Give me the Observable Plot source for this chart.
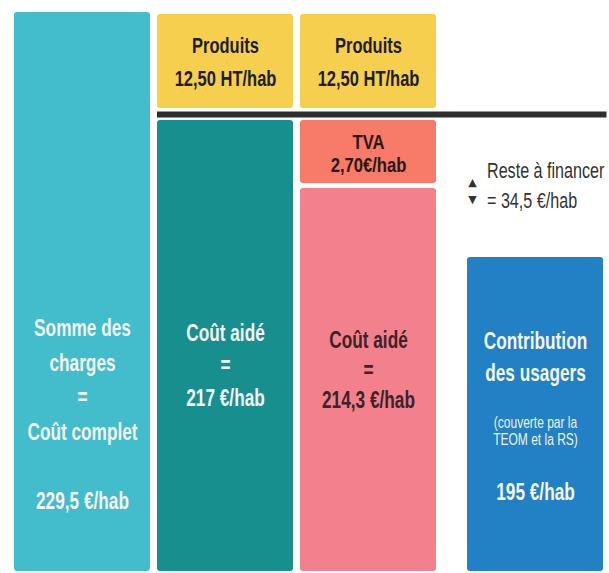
<!DOCTYPE html>
<html>
<head>
<meta charset="utf-8">
<script src="https://cdn.jsdelivr.net/npm/d3@7"></script>
<script src="https://cdn.jsdelivr.net/npm/@observablehq/plot@0.6"></script>
<style>
  html, body { margin: 0; padding: 0; background: #ffffff; }
  #chart svg { display: block; }
</style>
</head>
<body>
<div id="chart"></div>
<script>
// ---- data ----
const columns = ["complet", "aideHT", "aideTTC", "usagers"];
const segKey    = ["complet", "aideHT", "produitsHT", "aideTTC", "tva", "produitsTTC", "usagers", "reste"];
const segColumn = ["complet", "aideHT", "aideHT", "aideTTC", "aideTTC", "aideTTC", "usagers", "usagers"];
const segValue  = [229.5, 217, 12.5, 214.3, 2.7, 12.5, 195, 34.5];
const segTitle  = ["Somme des\ncharges\n=\nCoût complet", "Coût aidé\n=", "Produits", "Coût aidé\n=", "TVA", "Produits", "Contribution\ndes usagers", "Reste à financer"];
const usagersNote = "(couverte par la\nTEOM et la RS)";

const fr = (v, d) => (d == null ? String(v) : v.toFixed(d)).replace(".", ",");
const segLabel = [
  `${segTitle[0]}\n\n${fr(segValue[0])} €/hab`,
  `${segTitle[1]}\n${fr(segValue[1])} €/hab`,
  `${segTitle[2]}\n${fr(segValue[2], 2)} HT/hab`,
  `${segTitle[3]}\n${fr(segValue[3])} €/hab`,
  `${segTitle[4]}\n${fr(segValue[4], 2)}€/hab`,
  `${segTitle[5]}\n${fr(segValue[5], 2)} HT/hab`,
  `${segTitle[6]}`,
  `${segTitle[7]}\n= ${fr(segValue[7])} €/hab`
];
const usagersValueLabel = `${fr(segValue[6])} €/hab`;

// stack segments bottom-up within each column
const cum = {};
const segs = segKey.map((key, i) => {
  const col = segColumn[i];
  const c = columns.indexOf(col);
  const y1 = cum[col] || 0;
  const y2 = y1 + segValue[i];
  cum[col] = y2;
  return {key, col, x1: c, x2: c + 1, xm: c + 0.5, y1, y2, label: segLabel[i]};
});
const seg = k => segs.filter(d => d.key === k);

// ---- styles ----
const colors = {
  complet: "#43bdcb", aideHT: "#178f8f", produitsHT: "#f6cf4e", aideTTC: "#f2808d",
  tva: "#f77b68", produitsTTC: "#f6cf4e", usagers: "#2280c4"
};
const rectStyle = {
  complet:     {},
  aideHT:      {insetTop: 6},
  produitsHT:  {insetTop: 2, insetBottom: 6},
  aideTTC:     {insetTop: 2.5},
  tva:         {insetTop: 6, insetBottom: 2.5},
  produitsTTC: {insetTop: 2, insetBottom: 6},
  usagers:     {insetLeft: 27.5}
};
const FONT = "'Liberation Sans', Arial, sans-serif";
// text blocks are anchored at the top of their segment (y2)
const textStyle = {
  complet:     {fill: "#f5f5f5", lineHeight: 1.51, dy: 399},
  aideHT:      {fill: "#f5f5f5", lineHeight: 1.41, dy: 248.5},
  produitsHT:  {fill: "#1e1e1e", lineHeight: 1.5, dy: 46, fontSize: 22},
  aideTTC:     {fill: "#3b2427", lineHeight: 1.30, dy: 182.5},
  tva:         {fill: "#2a1814", lineHeight: 1.12, dy: 38.5, fontSize: 20.5},
  produitsTTC: {fill: "#1e1e1e", lineHeight: 1.5, dy: 46, fontSize: 22},
  usagers:     {fill: "#f5f5f5", lineHeight: 1.39, dy: 97, dx: 12}
};

const marks = [];
for (const k of Object.keys(rectStyle)) {
  marks.push(Plot.rectY(seg(k), {
    x1: "x1", x2: "x2", y1: "y1", y2: "y2",
    fill: colors[k], rx: 3, insetLeft: 3.5, insetRight: 3.5, ...rectStyle[k]
  }));
}
// separator line
marks.push(Plot.ruleY(seg("aideHT"), {y: "y2", x1: 1, x2: 4, stroke: "#2e2e2e", strokeWidth: 6, insetLeft: 3.5}));

for (const k of Object.keys(textStyle)) {
  marks.push(Plot.text(seg(k), {
    x: "xm", y: "y2", text: "label", fontFamily: FONT, fontSize: 23, fontWeight: "bold",
    lineAnchor: "middle", textAnchor: "middle", ...textStyle[k]
  }));
}
// usagers note and value
marks.push(Plot.text(seg("usagers"), {
  x: "xm", y: "y2", text: () => usagersNote, fontFamily: FONT, fontSize: 16,
  fill: "#f0f0f0", lineHeight: 1.1, dx: 12, dy: 173.5, textAnchor: "middle"
}));
marks.push(Plot.text(seg("usagers"), {
  x: "xm", y: "y2", text: () => usagersValueLabel, fontFamily: FONT, fontSize: 23,
  fontWeight: "bold", fill: "#f5f5f5", dx: 12, dy: 235, textAnchor: "middle"
}));
// reste à financer
marks.push(Plot.text(seg("reste"), {
  x: "x1", y: "y2", text: "label", fontFamily: FONT, fontSize: 21.5, fill: "#333333",
  lineHeight: 1.4, dx: 47, dy: 171, textAnchor: "start"
}));
marks.push(Plot.text(seg("reste"), {
  x: "x1", y: "y2", text: () => "▲", fontFamily: "'DejaVu Sans', sans-serif", fontSize: 11,
  fill: "#333333", dx: 32.5, dy: 170, textAnchor: "middle"
}));
marks.push(Plot.text(seg("reste"), {
  x: "x1", y: "y2", text: () => "▼", fontFamily: "'DejaVu Sans', sans-serif", fontSize: 11,
  fill: "#333333", dx: 32.5, dy: 187, textAnchor: "middle"
}));

const yStops = [0, segValue[6], segValue[3], segValue[1], segValue[0]]; // 0,195,214.3,217,229.5

const plot = Plot.plot({
  width: 609,
  height: 573,
  margin: 0,
  style: {background: "#ffffff"},
  x: {type: "linear", domain: [0, 3, 4], range: [10.5, 439.5, 606.5], axis: null},
  y: {type: "linear", domain: yStops, range: [571, 257, 185.5, 114, 12], axis: null},
  marks
});

// narrow the letterforms (condensed look of the original)
d3.select(plot).selectAll("text").each(function () {
  const t = this.getAttribute("transform");
  if (!t || this.textContent === "▲" || this.textContent === "▼") return;
  const fs = this.parentNode.getAttribute("font-size");
  const sx = fs === "20.5" ? 0.81 : 0.75;
  this.setAttribute("transform", t + ` scale(${sx},1)`);
});
document.getElementById("chart").appendChild(plot);
</script>
</body>
</html>
